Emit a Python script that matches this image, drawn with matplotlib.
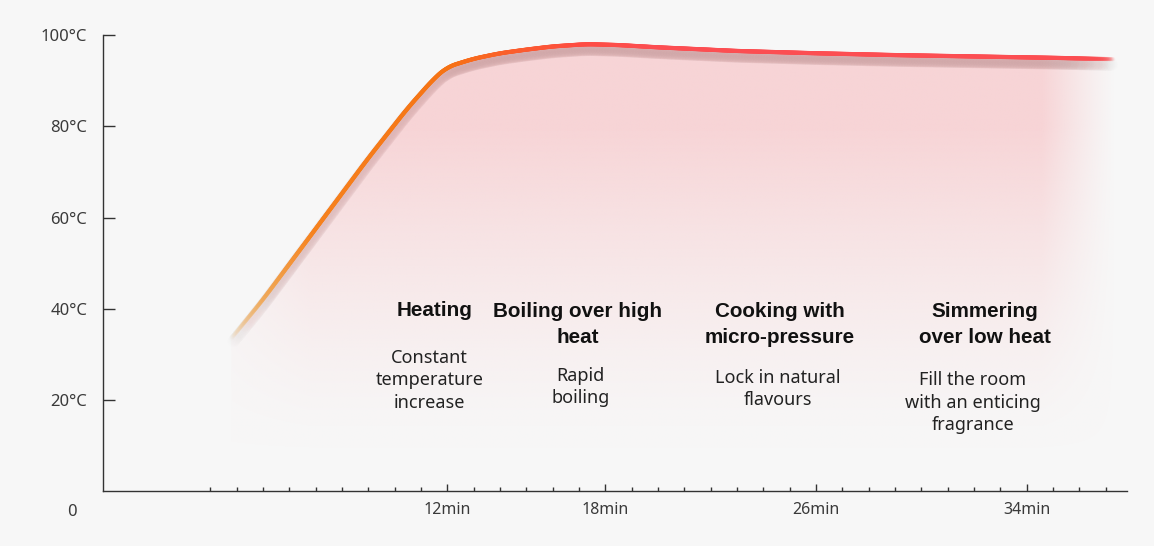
import numpy as np
import matplotlib
matplotlib.use('Agg')
import matplotlib.pyplot as plt
from matplotlib.collections import LineCollection
from matplotlib.path import Path
from matplotlib.patches import PathPatch

plt.rcParams['font.family'] = ['Noto Sans', 'DejaVu Sans']

# ---------------- data ----------------
time_min = [3.8, 5, 7, 9, 10.5, 11.5, 12, 13, 14, 15, 16, 17.3, 18.5, 20, 23, 26, 29, 32, 35, 37.3]
temp_c = [33.5, 42, 57.5, 73, 84, 90.5, 93, 94.8, 96, 96.8, 97.5, 98.0, 97.8, 97.3, 96.5, 96.0, 95.6, 95.3, 95.0, 94.7]

major_ticks = [12, 18, 26, 34]
major_labels = ['12min', '18min', '26min', '34min']
minor_ticks = list(range(3, 38))
y_ticks = [20, 40, 60, 80, 100]
y_labels = ['20°C', '40°C', '60°C', '80°C', '100°C']

stage_titles = ['Heating', 'Boiling over high\nheat', 'Cooking with\nmicro-pressure', 'Simmering\nover low heat']
stage_desc = ['Constant\ntemperature\nincrease', 'Rapid\nboiling', 'Lock in natural\nflavours',
              'Fill the room\nwith an enticing\nfragrance']

# layout of annotations (x in minutes, y = baseline of last line in °C)
title_x = [11.51, 16.94, 24.62, 32.41]
title_y = [38.42, 32.57, 32.57, 32.57]
desc_x = [11.33, 17.05, 24.56, 31.96]
desc_y = [18.26, 19.29, 18.91, 13.37]

BG = '#f7f7f7'

fig = plt.figure(figsize=(11.54, 5.46), dpi=100, facecolor=BG)
ax = fig.add_axes([103 / 1154, 54.7 / 546, (1126.8 - 103) / 1154, (491.3 - 35) / 546])
ax.set_facecolor(BG)

# ---------------- smooth curve for rendering ----------------
ts = np.linspace(time_min[0], time_min[-1], 1200)
Ts = np.interp(ts, time_min, temp_c)
win = 25
pad = np.concatenate([np.full(win, Ts[0] - (Ts[1] - Ts[0]) * np.arange(win, 0, -1)), Ts,
                      np.full(win, Ts[-1])])
kernel = np.ones(win) / win
Ts_s = np.convolve(pad, kernel, mode='same')[win:-win]
Ts_s[:win] = Ts[:win]

# ---------------- gradient fill under curve ----------------
verts = np.vstack([np.column_stack([ts, Ts_s]), [[ts[-1], 0], [ts[0], 0], [ts[0], Ts_s[0]]]])
path = Path(verts)
clip = PathPatch(path, facecolor='none', edgecolor='none', transform=ax.transData)
ax.add_patch(clip)

nx, ny = 500, 300
gx = np.linspace(3.8, 37.8, nx)
gy = np.linspace(0, 100, ny)
GX, GY = np.meshgrid(gx, gy)
v = np.clip((GY - 8) / (80 - 8), 0, 1) ** 1.4
h = np.clip((37.4 - GX) / (37.4 - 34.6), 0, 1) ** 1.2
hl = np.clip((GX - 3.8) / 3.0, 0, 1)
alpha = v * h * (0.4 + 0.6 * hl)
img = np.zeros((ny, nx, 4))
img[..., 0] = 247 / 255
img[..., 1] = 212 / 255
img[..., 2] = 214 / 255
img[..., 3] = alpha
im = ax.imshow(img, extent=[3.8, 37.8, 0, 100], origin='lower', aspect='auto',
               interpolation='bilinear', zorder=1)
im.set_clip_path(clip)

# ---------------- gradient line ----------------
stops_t = [3.8, 5.0, 7.0, 12.0, 14.0, 17.0, 20.0, 37.3]
stops_r = [236, 240, 246, 246, 250, 254, 252, 252]
stops_g = [205, 170, 130, 115, 98, 76, 78, 78]
stops_b = [160, 90, 30, 20, 40, 66, 82, 82]
mid = 0.5 * (ts[1:] + ts[:-1])
r = np.interp(mid, stops_t, stops_r) / 255
g = np.interp(mid, stops_t, stops_g) / 255
b = np.interp(mid, stops_t, stops_b) / 255
a = np.clip((mid - 3.8) / 2.2, 0, 1) * np.clip((37.3 - mid) / 1.6, 0, 1)
a = a ** 0.8
pts = np.column_stack([ts, Ts_s]).reshape(-1, 1, 2)
segs = np.concatenate([pts[:-1], pts[1:]], axis=1)

# soft shadow under the line
for lw, al, dy in [(9, 0.03, -1.2)]:
    sh = np.column_stack([ts, Ts_s + dy]).reshape(-1, 1, 2)
    ssegs = np.concatenate([sh[:-1], sh[1:]], axis=1)
    sc = np.column_stack([np.full_like(mid, 0.7), np.full_like(mid, 0.5), np.full_like(mid, 0.5), a * al])
    ax.add_collection(LineCollection(ssegs, colors=sc, linewidths=lw, capstyle='round', zorder=2))

cols = np.column_stack([r, g, b, a])
lc = LineCollection(segs, colors=cols, linewidths=3.0, capstyle='round', zorder=3)
ax.add_collection(lc)

# ---------------- axes ----------------
ax.set_xlim(-1.07, 37.8)
ax.set_ylim(0, 100)
for s in ['top', 'right']:
    ax.spines[s].set_visible(False)
for s in ['left', 'bottom']:
    ax.spines[s].set_color('#333333')
    ax.spines[s].set_linewidth(1.0)

ax.set_yticks(y_ticks)
ax.set_yticklabels(y_labels)
ax.tick_params(axis='y', direction='in', length=8.6, width=1.0, color='#333333',
               pad=11.5, labelsize=12, labelcolor='#3a3a3a')
ax.set_xticks(major_ticks)
ax.set_xticklabels(major_labels)
ax.set_xticks(minor_ticks, minor=True)
ax.tick_params(axis='x', which='major', direction='in', length=5, width=1.0, color='#333333',
               pad=8, labelsize=11.5, labelcolor='#3a3a3a')
ax.tick_params(axis='x', which='minor', direction='in', length=2.6, width=1.0, color='#333333')

fig.text(72 / 1154, 1 - 512 / 546, '0', ha='center', va='center', fontsize=12, color='#3a3a3a')

# ---------------- stage annotations ----------------
for x, y, s in zip(title_x, title_y, stage_titles):
    ax.text(x, y, s, ha='center', va='baseline', ma='center', fontsize=14.9, fontweight='bold',
            family=['Liberation Sans', 'DejaVu Sans'], color='#111111', linespacing=1.42, zorder=5)
for x, y, s in zip(desc_x, desc_y, stage_desc):
    ax.text(x, y, s, ha='center', va='baseline', ma='center', fontsize=13, color='#222222',
            linespacing=1.32, zorder=5)

fig.savefig('out.png', dpi=100, facecolor=BG)
